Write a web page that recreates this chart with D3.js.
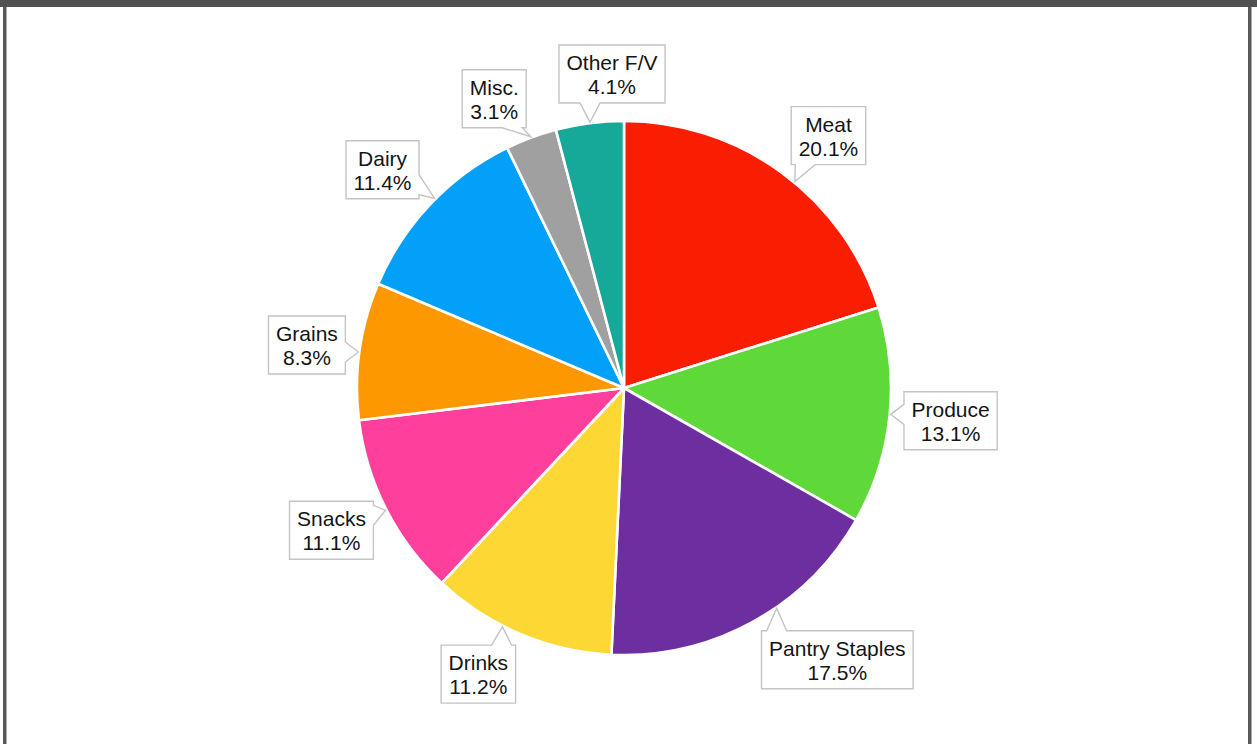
<!DOCTYPE html>
<html>
<head>
<meta charset="utf-8">
<script src="https://cdn.jsdelivr.net/npm/d3@7"></script>
<style>
  html, body { margin: 0; padding: 0; background: #ffffff; }
  svg { display: block; }
</style>
</head>
<body>
<svg id="chart" width="1257" height="744"></svg>
<script>
// Grocery spending by category (share of total, %)
const categories = ["Meat", "Produce", "Pantry Staples", "Drinks", "Snacks", "Grains", "Dairy", "Misc.", "Other F/V"];
const shares = [20.1, 13.1, 17.5, 11.2, 11.1, 8.3, 11.4, 3.1, 4.1];
const sliceColors = ["#f91d02", "#5fd83a", "#6d2f9f", "#fdd835", "#fe3f9c", "#fe9800", "#03a0fa", "#a0a0a0", "#16a899"];

// Callout placement tweaks so the boxes don't collide:
// box direction and pointer direction (degrees, relative to the slice middle), extra gap (px)
const calloutTweak = {
  "Meat":           { box:  2.8, tip:  3.4, gap: 0 },
  "Produce":        { box: -0.3, tip: -0.4, gap: 1 },
  "Pantry Staples": { box: -9.3, tip: -5.9, gap: 0 },
  "Drinks":         { box:  4.1, tip:  4.1, gap: 0 },
  "Snacks":         { box:  1.0, tip: -0.2, gap: -4 },
  "Grains":         { box: -0.3, tip: -0.3, gap: 0 },
  "Dairy":          { box: -1.4, tip:  1.5, gap: 0 },
  "Misc.":          { box: -3.8, tip:  0.0, gap: -1 },
  "Other F/V":      { box:  5.2, tip:  0.1, gap: 6 }
};

const W = 1257, H = 744;
const cx = 624, cy = 388, R = 267;
const boxGap = 279;      // distance from pie centre to nearest point of each callout box
const tipR = 268;        // callout pointers touch the rim
const boxH = 58, padX = 7.5;

const rows = categories.map((c, i) => ({ category: c, share: shares[i], color: sliceColors[i] }));

const svg = d3.select("#chart");

// Frame
svg.append("rect").attr("x", 3).attr("y", 0).attr("width", 3.5).attr("height", H).attr("fill", "#585858");
svg.append("rect").attr("x", 1248).attr("y", 0).attr("width", 3.5).attr("height", H).attr("fill", "#585858");
svg.append("rect").attr("x", 0).attr("y", 0).attr("width", W).attr("height", 7).attr("fill", "#505050");

const pie = d3.pie().sort(null).value(d => d.share).startAngle(0).endAngle(2 * Math.PI);
const arc = d3.arc().innerRadius(0).outerRadius(R);
const arcs = pie(rows);

const g = svg.append("g").attr("transform", `translate(${cx},${cy})`);

g.selectAll("path.slice")
  .data(arcs)
  .join("path")
  .attr("class", "slice")
  .attr("d", arc)
  .attr("fill", d => d.data.color)
  .attr("stroke", "#ffffff")
  .attr("stroke-width", 2.6)
  .attr("stroke-linejoin", "round");

// Callouts
const fontFamily = "'Liberation Sans', Arial, Helvetica, sans-serif";
const fontSize = 21;
const rad = deg => deg * Math.PI / 180;

const labels = g.append("g").attr("class", "callouts");

arcs.forEach(d => {
  const name = d.data.category;
  const tw0 = calloutTweak[name] || { box: 0, tip: 0, gap: 0 };
  const mid = (d.startAngle + d.endAngle) / 2;
  const a = mid + rad(tw0.box);
  const ta = mid + rad(tw0.tip);
  const gap = boxGap + tw0.gap;

  const lg = labels.append("g");
  const boxPath = lg.append("path");
  const t1 = lg.append("text").text(name);
  const t2 = lg.append("text").text(d3.format(".1f")(d.data.share) + "%");
  [t1, t2].forEach(t => t
    .attr("font-family", fontFamily)
    .attr("font-size", fontSize)
    .attr("fill", "#141414")
    .attr("text-anchor", "middle"));

  const tw = Math.max(t1.node().getComputedTextLength(), t2.node().getComputedTextLength());
  const bw = tw + 2 * padX;

  // distance from pie centre to nearest point of a box centred along the ray at radius r
  const nearest = r => {
    const x = r * Math.sin(a), y = -r * Math.cos(a);
    const dx = Math.max(Math.abs(x) - bw / 2, 0), dy = Math.max(Math.abs(y) - boxH / 2, 0);
    return Math.hypot(dx, dy);
  };
  let lo = 0, hi = 600;
  for (let k = 0; k < 60; k++) {
    const m = (lo + hi) / 2;
    if (nearest(m) < gap) lo = m; else hi = m;
  }
  const r = (lo + hi) / 2;
  const bx = r * Math.sin(a), by = -r * Math.cos(a);
  const x0 = bx - bw / 2, x1 = bx + bw / 2, y0 = by - boxH / 2, y1 = by + boxH / 2;

  const tx = tipR * Math.sin(ta), ty = -tipR * Math.cos(ta);

  // which side the pointer leaves from
  const ox = tx < x0 ? x0 - tx : (tx > x1 ? tx - x1 : 0);
  const oy = ty < y0 ? y0 - ty : (ty > y1 ? ty - y1 : 0);
  let edge;
  if (oy >= ox) edge = ty < y0 ? "top" : "bottom";
  else edge = tx < x0 ? "left" : "right";

  const half = 10, inset = 14;
  const clamp = (v, lo2, hi2) => Math.max(lo2, Math.min(hi2, v));
  const p = [[x0, y0]];
  if (edge === "top") {
    const c = clamp(tx, x0 + inset, x1 - inset);
    p.push([c - half, y0], [tx, ty], [c + half, y0]);
  }
  p.push([x1, y0]);
  if (edge === "right") {
    const c = clamp(ty, y0 + inset, y1 - inset);
    p.push([x1, c - half], [tx, ty], [x1, c + half]);
  }
  p.push([x1, y1]);
  if (edge === "bottom") {
    const c = clamp(tx, x0 + inset, x1 - inset);
    p.push([c + half, y1], [tx, ty], [c - half, y1]);
  }
  p.push([x0, y1]);
  if (edge === "left") {
    const c = clamp(ty, y0 + inset, y1 - inset);
    p.push([x0, c + half], [tx, ty], [x0, c - half]);
  }

  boxPath
    .attr("d", d3.line()(p) + "Z")
    .attr("fill", "#ffffff")
    .attr("stroke", "#c4c4c4")
    .attr("stroke-width", 1.4)
    .attr("stroke-linejoin", "miter");

  t1.attr("x", bx).attr("y", y0 + 25);
  t2.attr("x", bx).attr("y", y0 + 49);
});
</script>
</body>
</html>
